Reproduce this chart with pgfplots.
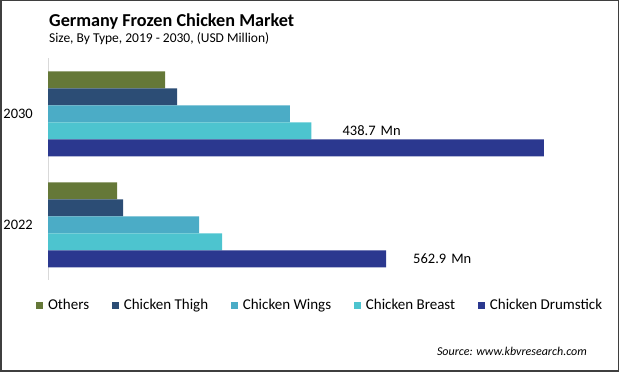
\documentclass[border=0pt]{standalone}
\usepackage{fontspec}
\setmainfont{Carlito}
\usepackage{pgfplots}
\pgfplotsset{compat=1.18}
\definecolor{cOthers}{HTML}{657838}
\definecolor{cThigh}{HTML}{2C4D75}
\definecolor{cWings}{HTML}{4BACC6}
\definecolor{cBreast}{HTML}{4DC4CF}
\definecolor{cDrum}{HTML}{2B388F}
\definecolor{frame}{HTML}{3F3F3F}
\begin{document}
\begin{tikzpicture}[x=1pt,y=1pt]
\path[use as bounding box] (0,0) rectangle (619,372);
\draw[color=frame, line width=1.5pt] (0.75,0.75) rectangle (618.25,371.25);
\node[anchor=base west, inner sep=0pt, font=\bfseries\fontsize{18.2}{20}\selectfont] at (49,345.5) {Germany Frozen Chicken Market};
\node[anchor=base west, inner sep=0pt, font=\fontsize{13.5}{16}\selectfont] at (49,329.5) {Size, By Type, 2019 - 2030, (USD Million)};
\node[anchor=east, inner sep=0pt, font=\itshape\fontsize{12}{14}\selectfont] at (587,20.3) {Source: www.kbvresearch.com};
\begin{axis}[
  at={(48pt,92pt)}, anchor=south west, scale only axis,
  width=560pt, height=222pt,
  xmin=0, xmax=932.6, ymin=-0.4955, ymax=1.5045,
  xbar, bar width=17pt,
  axis x line=none, axis y line=left,
  y axis line style={-, draw=gray!30, line width=1pt},
  ytick={0,1}, yticklabels={2022,2030},
  major tick length=0pt,
  /pgf/number format/assume math mode=true,
  yticklabel style={inner sep=0pt, xshift=-15pt, font=\fontsize{14.5}{16}\selectfont},
  clip=false,
  legend columns=5,
  legend image code/.code={\fill[#1] (0pt,-3.5pt) rectangle (7.2pt,3.5pt);},
  legend style={at={(axis description cs:-0.0223,-0.1137)}, anchor=west,
    draw=none, fill=none, inner sep=0pt, font=\fontsize{15}{17}\selectfont,
    nodes={inner sep=0pt},
    /tikz/every odd column/.append style={column sep=5.1pt},
    /tikz/every even column/.append style={column sep=22.4pt}},
]
\addplot[fill=cOthers, draw=none, bar shift=34pt] coordinates {(115,0) (195,1)};
\addplot[fill=cThigh, draw=none, bar shift=17pt] coordinates {(125,0) (215,1)};
\addplot[fill=cWings, draw=none, bar shift=0pt] coordinates {(251.5,0) (403,1)};
\addplot[fill=cBreast, draw=none, bar shift=-17pt] coordinates {(290,0) (438.7,1)};
\addplot[fill=cDrum, draw=none, bar shift=-34pt] coordinates {(562.9,0) (826,1)};
\legend{Others, Chicken Thigh, Chicken Wings, Chicken Breast, Chicken Drumstick}
\node[anchor=west, inner sep=0pt, xshift=31pt, yshift=-17pt, font=\fontsize{14.5}{16}\selectfont] at (axis cs:438.7,1) {438.7\hspace{5pt}Mn};
\node[anchor=west, inner sep=0pt, xshift=27pt, yshift=-34pt, font=\fontsize{14.5}{16}\selectfont] at (axis cs:562.9,0) {562.9\hspace{5pt}Mn};
\end{axis}
\end{tikzpicture}
\end{document}
